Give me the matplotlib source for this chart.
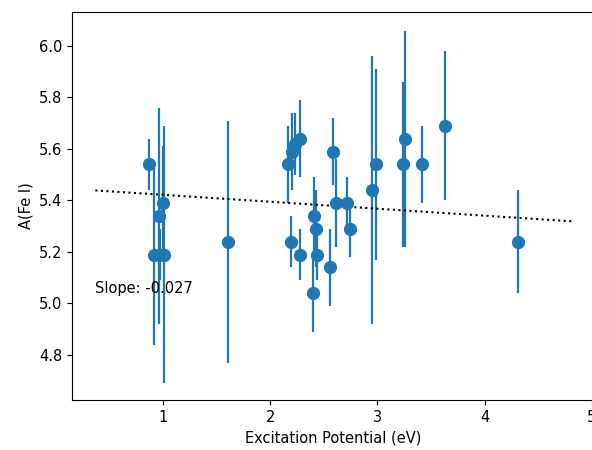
import matplotlib
matplotlib.use("Agg")
import matplotlib.pyplot as plt
import numpy as np

# Fe I line abundances versus lower excitation potential
exc_pot = [0.87, 0.92, 0.96, 0.97, 1.00, 1.01, 1.61,
           2.17, 2.19, 2.20, 2.23, 2.28, 2.28, 2.40, 2.41, 2.43, 2.44,
           2.56, 2.59, 2.61, 2.72, 2.74, 2.95, 2.99, 3.24, 3.26, 3.42,
           3.63, 4.31]
abund = [5.54, 5.19, 5.34, 5.19, 5.39, 5.19, 5.24,
         5.54, 5.24, 5.59, 5.62, 5.64, 5.19, 5.04, 5.34, 5.29, 5.19,
         5.14, 5.59, 5.39, 5.39, 5.29, 5.44, 5.54, 5.54, 5.64, 5.54,
         5.69, 5.24]
abund_err = [0.10, 0.35, 0.42, 0.10, 0.22, 0.50, 0.47,
             0.15, 0.10, 0.15, 0.12, 0.15, 0.10, 0.15, 0.15, 0.15, 0.10,
             0.15, 0.13, 0.17, 0.10, 0.11, 0.52, 0.37, 0.32, 0.42, 0.15,
             0.29, 0.20]

# linear trend
slope = -0.027
intercept = 5.449
trend_x = [0.37, 4.81]

fig = plt.figure(figsize=(5.92, 4.5), dpi=100)
ax = fig.add_axes([72 / 592, 50 / 450, 522 / 592, 388 / 450])

ax.errorbar(exc_pot, abund, yerr=abund_err, fmt='o', color='C0',
            markersize=8.5, elinewidth=1.6)
tx = np.array(trend_x)
ax.plot(tx, slope * tx + intercept, 'k:')
ax.text(trend_x[0], 5.04, f"Slope: {slope:.3f}", fontsize=10.5)

ax.set_xlim(0.152, 5.02)
ax.set_ylim(4.625, 6.132)
ax.set_xticks([1, 2, 3, 4, 5])
ax.set_yticks([4.8, 5.0, 5.2, 5.4, 5.6, 5.8, 6.0])
ax.tick_params(labelsize=10.5)
ax.set_xlabel("Excitation Potential (eV)", fontsize=10.5)
ax.set_ylabel("A(Fe I)", fontsize=10.5)

fig.savefig("out.png", dpi=100)
